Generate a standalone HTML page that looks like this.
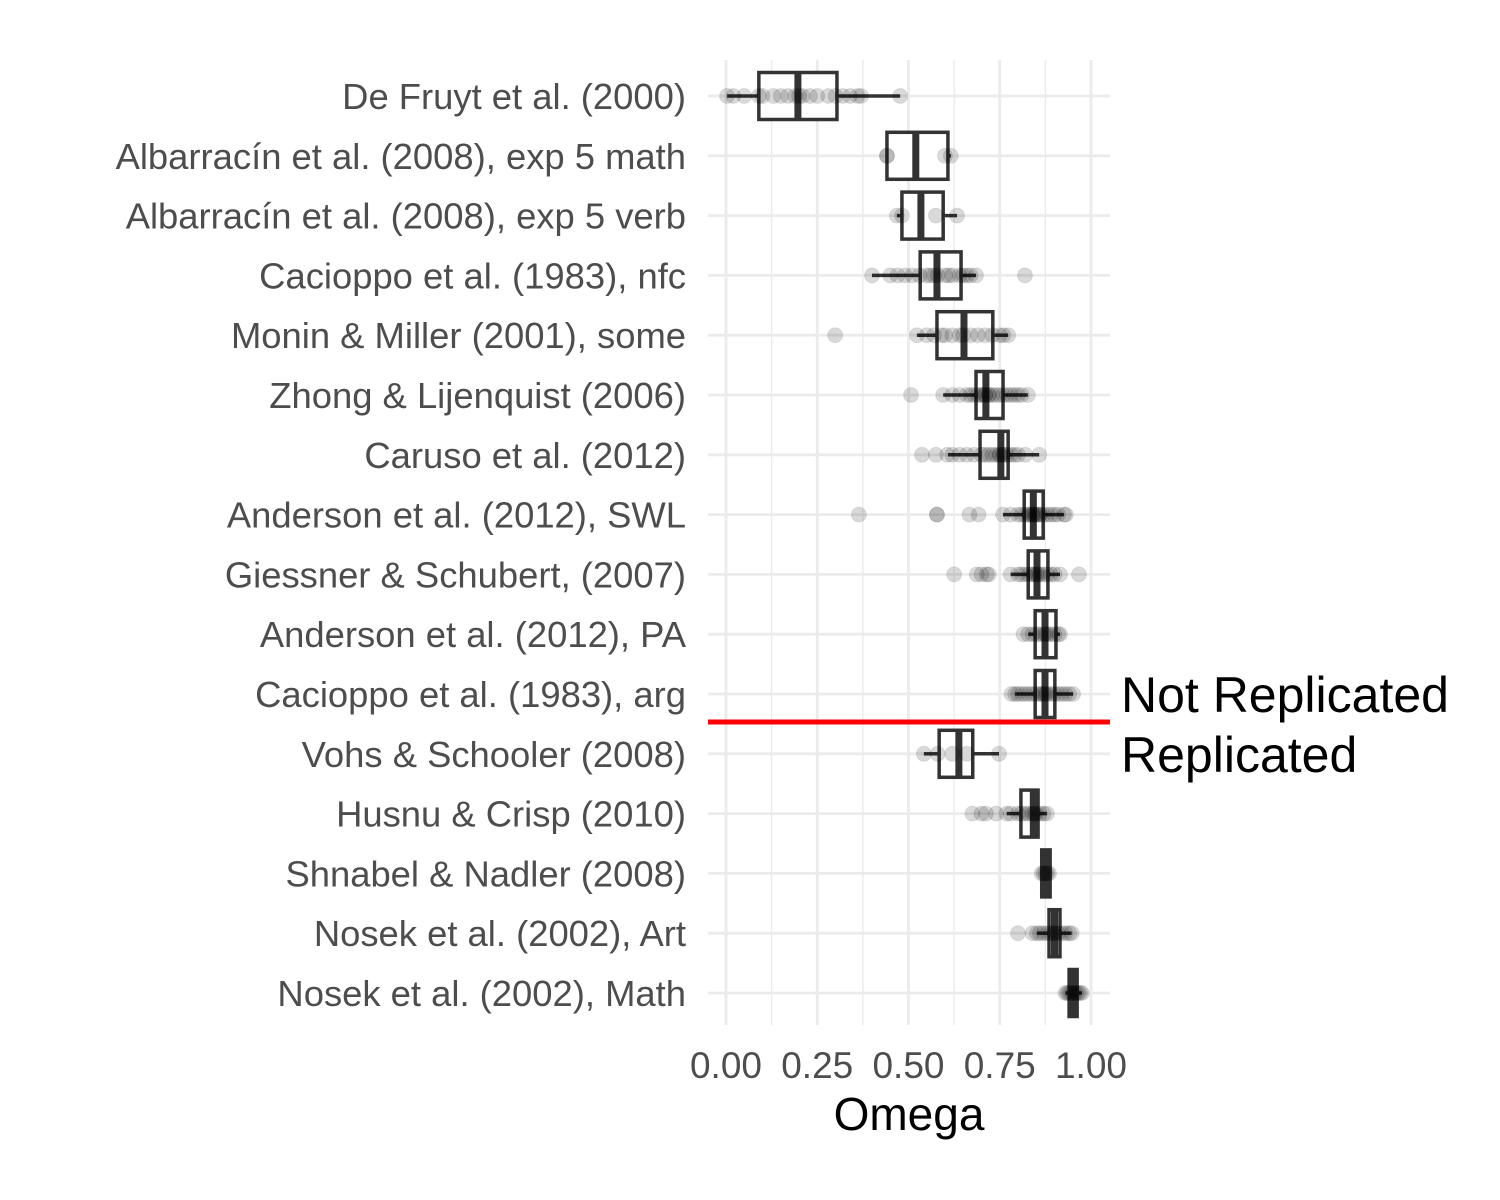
<!DOCTYPE html>
<html><head><meta charset="utf-8"><style>
html,body{margin:0;padding:0;background:#fff;}
svg{display:block;}
text{font-family:"Liberation Sans",Arial,sans-serif;}
</style></head><body>
<svg id="chart" width="1500" height="1200" xmlns="http://www.w3.org/2000/svg">
<g id="grid"></g>
<g id="marks"></g>
<g id="labels"></g>
<line x1="708" x2="1110" y1="722" y2="722" stroke="#ff0000" stroke-width="5"/>
<text x="1121" y="712" font-size="50" fill="#000">Not Replicated</text>
<text x="1121" y="772" font-size="50" fill="#000">Replicated</text>
<text x="909" y="1130" font-size="46" fill="#000" text-anchor="middle">Omega</text>
</svg>
<script>
const studies = ["De Fruyt et al. (2000)","Albarracín et al. (2008), exp 5 math","Albarracín et al. (2008), exp 5 verb","Cacioppo et al. (1983), nfc","Monin & Miller (2001), some","Zhong & Lijenquist (2006)","Caruso et al. (2012)","Anderson et al. (2012), SWL","Giessner & Schubert, (2007)","Anderson et al. (2012), PA","Cacioppo et al. (1983), arg","Vohs & Schooler (2008)","Husnu & Crisp (2010)","Shnabel & Nadler (2008)","Nosek et al. (2002), Art","Nosek et al. (2002), Math"];
const q1 = [0.09,0.441,0.482,0.532,0.578,0.685,0.696,0.817,0.828,0.847,0.847,0.584,0.808,0.865,0.885,0.94];
const medians = [0.197,0.52,0.534,0.578,0.652,0.712,0.753,0.842,0.852,0.874,0.874,0.638,0.842,0.876,0.90,0.952];
const q3 = [0.304,0.608,0.595,0.644,0.731,0.759,0.773,0.869,0.882,0.904,0.901,0.676,0.855,0.888,0.915,0.962];
const whiskLo = [0.003,0.441,0.468,0.40,0.523,0.595,0.608,0.759,0.78,0.828,0.792,0.542,0.769,0.865,0.852,0.93];
const whiskHi = [0.477,0.616,0.633,0.685,0.773,0.827,0.858,0.926,0.915,0.915,0.951,0.748,0.879,0.888,0.947,0.975];
const points = [
 [0.003,0.02,0.05,0.09,0.1,0.13,0.15,0.17,0.19,0.2,0.21,0.23,0.25,0.28,0.3,0.32,0.34,0.36,0.37,0.477],
 [0.441,0.441,0.6,0.616],
 [0.468,0.482,0.575,0.633],
 [0.40,0.45,0.47,0.49,0.51,0.53,0.55,0.56,0.57,0.58,0.6,0.61,0.62,0.64,0.65,0.66,0.67,0.685,0.819],
 [0.299,0.523,0.55,0.57,0.59,0.6,0.62,0.64,0.65,0.67,0.69,0.71,0.73,0.75,0.76,0.773],
 [0.507,0.595,0.62,0.64,0.66,0.67,0.68,0.69,0.7,0.7,0.71,0.71,0.72,0.72,0.73,0.74,0.75,0.76,0.77,0.78,0.79,0.8,0.81,0.827],
 [0.537,0.575,0.606,0.62,0.64,0.66,0.68,0.7,0.71,0.72,0.73,0.74,0.75,0.75,0.76,0.76,0.77,0.78,0.79,0.8,0.82,0.858],
 [0.364,0.578,0.578,0.667,0.692,0.759,0.78,0.8,0.81,0.82,0.83,0.83,0.84,0.84,0.845,0.85,0.85,0.86,0.86,0.87,0.88,0.89,0.9,0.91,0.926,0.931],
 [0.625,0.687,0.7,0.714,0.72,0.78,0.8,0.81,0.82,0.83,0.84,0.845,0.85,0.855,0.86,0.87,0.88,0.89,0.9,0.915,0.967],
 [0.815,0.828,0.84,0.85,0.86,0.87,0.875,0.88,0.89,0.9,0.91,0.915],
 [0.782,0.792,0.8,0.81,0.82,0.83,0.84,0.85,0.86,0.865,0.87,0.875,0.88,0.89,0.9,0.91,0.92,0.93,0.94,0.951],
 [0.542,0.58,0.62,0.66,0.748],
 [0.675,0.7,0.712,0.74,0.769,0.78,0.8,0.81,0.82,0.83,0.84,0.845,0.85,0.86,0.87,0.879],
 [0.865,0.87,0.875,0.88,0.885],
 [0.8,0.84,0.852,0.86,0.87,0.88,0.89,0.9,0.9,0.91,0.92,0.93,0.94,0.947],
 [0.93,0.935,0.94,0.945,0.95,0.955,0.96,0.965,0.97,0.975]
];
const ticks = [0,0.25,0.5,0.75,1.0];
const tickLabels = ["0.00","0.25","0.50","0.75","1.00"];

const NS="http://www.w3.org/2000/svg";
const X = v => 726 + 365*v;
const Y = i => 96 + i*59.8;
function mk(tag, attrs, parent){const e=document.createElementNS(NS,tag);for(const k in attrs)e.setAttribute(k,attrs[k]);parent.appendChild(e);return e;}
const grid=document.getElementById('grid'), marks=document.getElementById('marks'), labels=document.getElementById('labels');
for(let i=0;i<ticks.length-1;i++){
  const m=(ticks[i]+ticks[i+1])/2;
  const l=mk('line',{x1:X(m),x2:X(m),y1:60,y2:1025,stroke:'#ebebeb','stroke-width':1.4},grid);
  
  
}
ticks.forEach((t,i)=>{
  const l=mk('line',{x1:X(t),x2:X(t),y1:60,y2:1025,stroke:'#ebebeb','stroke-width':2.8},grid);
  
  
  const tx=mk('text',{x:X(t),y:1078,'font-size':37,fill:'#4d4d4d','text-anchor':'middle'},labels);
  tx.textContent=tickLabels[i];
  
  
});
studies.forEach((s,i)=>{
  const y=Y(i);
  const hl=mk('line',{x1:708,x2:1110,y1:y,y2:y,stroke:'#ebebeb','stroke-width':2.8},grid);
  
  
  const tx=mk('text',{x:686,y:y+13,'font-size':36.4,fill:'#4d4d4d','text-anchor':'end'},labels);
  tx.textContent=s;
  
  
  const g=mk('g',{},marks);
  
  
  const h=23.5;
  const w1=mk('line',{x1:X(whiskLo[i]),x2:X(q1[i]),y1:y,y2:y,stroke:'#333','stroke-width':3.5},g);
  
  
  const w2=mk('line',{x1:X(q3[i]),x2:X(whiskHi[i]),y1:y,y2:y,stroke:'#333','stroke-width':3.5},g);
  
  
  const b=mk('rect',{x:X(q1[i]),y:y-h,width:Math.max(X(q3[i])-X(q1[i]),1),height:2*h,fill:'#fff',stroke:'#333','stroke-width':3.5},g);
  
  
  const md=mk('line',{x1:X(medians[i]),x2:X(medians[i]),y1:y-h,y2:y+h,stroke:'#333','stroke-width':7},g);
  
  
  points[i].forEach(v=>{
    const c=mk('circle',{cx:X(v),cy:y,r:7.5,fill:'rgba(0,0,0,0.15)',stroke:'rgba(0,0,0,0.08)','stroke-width':1},g);
    
    
  });
});
</script>
</body></html>
